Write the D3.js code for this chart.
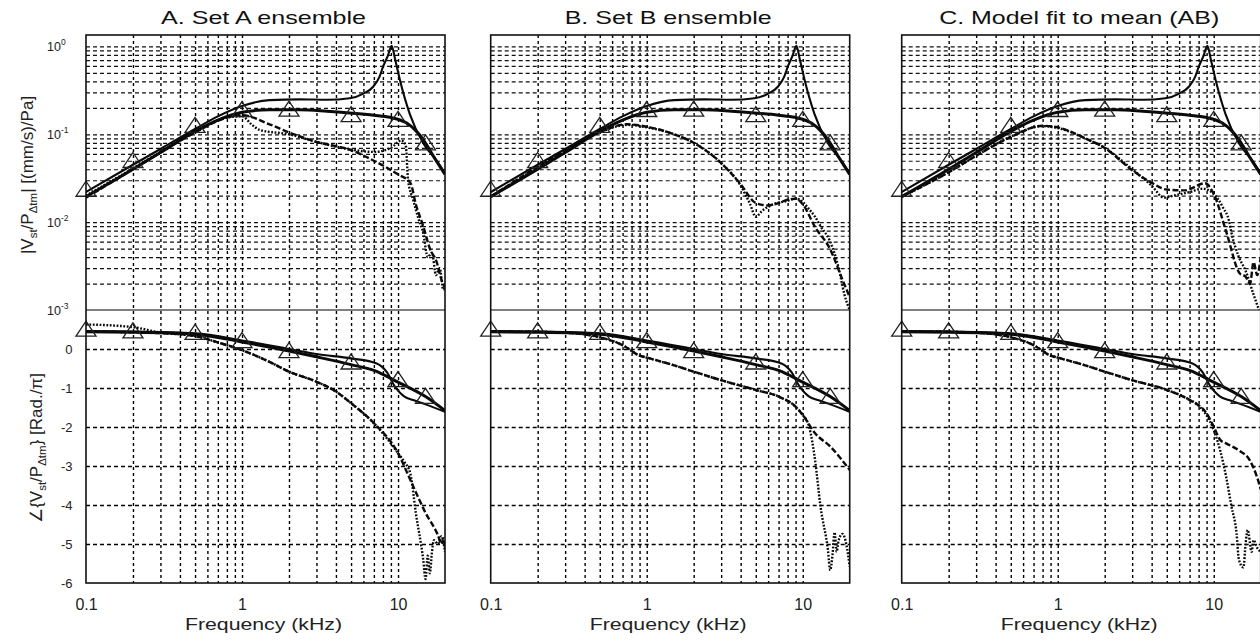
<!DOCTYPE html>
<html>
<head>
<meta charset="utf-8">
<script src="https://cdn.jsdelivr.net/npm/d3@7"></script>
<style>
  html, body { margin: 0; padding: 0; background: #fff; }
  svg { display: block; font-family: "Liberation Sans", Arial, Helvetica, sans-serif; }
</style>
</head>
<body>
<script>
// ---------------- DATA ----------------
const PANEL_TITLES = ["A. Set A ensemble", "B. Set B ensemble", "C. Model fit to mean (AB)"];
const X_TICK_LABELS = [0.1, 1, 10];
const MAG_EXPONENTS = [0, -1, -2, -3];
const PHASE_TICKS = [0, -1, -2, -3, -4, -5, -6];
const X_LABEL = "Frequency (kHz)";

// triangle markers (same in all panels)
const triFreq  = [0.1, 0.2, 0.5, 1, 2, 5, 10, 15];
const triMag   = [0.024, 0.051, 0.128, 0.194, 0.196, 0.17, 0.15, 0.081];
const triPhase = [0.52, 0.48, 0.44, 0.23, -0.03, -0.32, -0.77, -1.2];

// model with resonance peak (thin solid)
const peakMagFreq = [0.1, 0.2, 0.3, 0.5, 0.7, 1, 1.5, 2.35, 3.5, 4.9, 6, 6.95, 7.6, 8.05, 8.6, 9.1, 9.6, 10.3, 11.9, 14.5, 17.7, 20];
const peakMagVal  = [0.022, 0.045, 0.068, 0.115, 0.16, 0.21, 0.245, 0.25, 0.247, 0.257, 0.29, 0.35, 0.45, 0.6, 0.78, 1.02, 0.7, 0.41, 0.17, 0.079, 0.05, 0.036];
const peakPhFreq  = [0.1, 0.2, 0.5, 1, 2, 3, 5, 7.3, 8.5, 9.5, 10.3, 11, 12.5, 15, 20];
const peakPhVal   = [0.46, 0.45, 0.4, 0.22, 0.0, -0.13, -0.24, -0.37, -0.6, -0.95, -1.12, -1.22, -1.31, -1.42, -1.61];

// smooth fit (thick solid)
const fitMagFreq = [0.1, 0.2, 0.3, 0.5, 0.7, 1, 1.5, 2.35, 3.5, 4.9, 7, 8.9, 11.3, 13, 14.5, 17, 20];
const fitMagVal  = [0.0195, 0.04, 0.062, 0.108, 0.145, 0.178, 0.19, 0.19, 0.183, 0.175, 0.165, 0.156, 0.135, 0.11, 0.087, 0.055, 0.035];
const fitPhFreq  = [0.1, 0.2, 0.5, 1, 2, 3, 5, 7, 10, 15, 20];
const fitPhVal   = [0.44, 0.43, 0.38, 0.18, -0.05, -0.2, -0.4, -0.55, -0.85, -1.22, -1.58];

// Panel A ensemble
const aMagDashF = [0.1, 0.2, 0.3, 0.5, 0.8, 1, 1.5, 2, 3, 5, 7, 10, 12, 13, 14.5, 16, 17.7, 19, 20];
const aMagDashV = [0.019, 0.04, 0.062, 0.105, 0.155, 0.165, 0.13, 0.105, 0.082, 0.066, 0.05, 0.035, 0.028, 0.016, 0.009, 0.005, 0.0035, 0.0022, 0.0018];
const aMagDotF  = [0.1, 0.2, 0.3, 0.5, 0.8, 1, 1.15, 1.3, 2, 3, 5, 7, 9, 10.5, 11.2, 11.6, 12.5, 13.5, 14.5, 15.5, 16.5, 17.5, 18.5, 19.5, 20];
const aMagDotV  = [0.02, 0.041, 0.063, 0.107, 0.155, 0.16, 0.13, 0.112, 0.1, 0.082, 0.067, 0.063, 0.07, 0.085, 0.075, 0.03, 0.018, 0.011, 0.0075, 0.004, 0.0045, 0.0025, 0.003, 0.0017, 0.0019];
const aPhDashF  = [0.1, 0.2, 0.3, 0.5, 0.7, 1, 1.5, 2, 3, 4, 5, 7, 10, 12, 15, 18, 19, 19.5, 20];
const aPhDashV  = [0.45, 0.43, 0.41, 0.33, 0.17, -0.03, -0.33, -0.58, -0.84, -1.09, -1.39, -1.9, -2.67, -3.36, -4.2, -4.77, -5.0, -4.85, -5.1];
const aPhDotF   = [0.1, 0.2, 0.3, 0.5, 0.7, 1, 1.5, 2, 3, 4, 5, 7, 10, 11, 12, 13, 14.5, 15, 15.5, 16, 16.5, 17, 18, 19, 20];
const aPhDotV   = [0.63, 0.56, 0.42, 0.33, 0.17, -0.03, -0.33, -0.58, -0.84, -1.09, -1.39, -1.9, -2.67, -2.9, -3.2, -4.2, -5.4, -5.9, -5.3, -5.75, -5.2, -4.9, -5.0, -4.8, -5.2];

// Panel B ensemble
const bMagDashF = [0.1, 0.2, 0.3, 0.5, 0.75, 1, 1.5, 2, 3, 4, 5, 6, 7, 8, 9, 10, 12, 15, 18, 20];
const bMagDashV = [0.0195, 0.0425, 0.065, 0.106, 0.13, 0.122, 0.1, 0.08, 0.047, 0.027, 0.0165, 0.0155, 0.0165, 0.018, 0.0185, 0.016, 0.0088, 0.0049, 0.0022, 0.0014];
const bMagDotF  = [0.1, 0.2, 0.3, 0.5, 0.75, 1, 1.5, 2, 3, 4, 4.6, 5, 5.5, 6.5, 8, 9, 10, 11, 12, 13, 15, 17, 18.5, 20];
const bMagDotV  = [0.0195, 0.042, 0.064, 0.105, 0.128, 0.12, 0.1, 0.08, 0.047, 0.026, 0.016, 0.0115, 0.0135, 0.016, 0.0175, 0.0185, 0.017, 0.014, 0.0115, 0.009, 0.006, 0.003, 0.0015, 0.001];
const bPhDashF  = [0.1, 0.2, 0.3, 0.5, 0.7, 0.9, 1, 1.5, 2, 3, 5, 7, 9, 10, 12, 15, 20];
const bPhDashV  = [0.45, 0.44, 0.42, 0.3, 0.1, -0.17, -0.22, -0.42, -0.58, -0.8, -1.05, -1.22, -1.48, -1.69, -2.16, -2.5, -3.1];
const bPhDotF   = [0.1, 0.2, 0.3, 0.5, 0.7, 0.9, 1, 1.5, 2, 3, 5, 7, 9, 10, 11, 12, 13, 14.5, 15, 15.5, 16, 16.5, 17, 18, 19, 20];
const bPhDotV   = [0.45, 0.44, 0.42, 0.3, 0.1, -0.17, -0.22, -0.42, -0.58, -0.8, -1.05, -1.22, -1.48, -1.69, -2.0, -2.85, -4.04, -5.15, -5.67, -5.3, -4.7, -5.2, -4.9, -4.74, -5.0, -5.58];

// Panel C ensemble
const cMagDashF = [0.1, 0.2, 0.3, 0.5, 0.8, 1, 1.5, 2, 3, 4, 5, 6.5, 8.8, 9.95, 12.1, 14.7, 16, 17.1, 18, 19, 20];
const cMagDashV = [0.0195, 0.037, 0.057, 0.093, 0.125, 0.12, 0.09, 0.07, 0.039, 0.028, 0.0235, 0.023, 0.0277, 0.0214, 0.0075, 0.0026, 0.0024, 0.002, 0.0035, 0.0025, 0.004];
const cMagDotF  = [0.1, 0.2, 0.3, 0.5, 0.8, 1, 1.5, 2, 3, 4, 4.8, 5.5, 7, 8.5, 10, 11.5, 12.5, 13, 14.5, 16, 18, 19.5];
const cMagDotV  = [0.0195, 0.037, 0.057, 0.094, 0.124, 0.118, 0.09, 0.07, 0.04, 0.026, 0.019, 0.02, 0.022, 0.024, 0.021, 0.0145, 0.0105, 0.0075, 0.004, 0.0028, 0.0015, 0.001];
const cPhDashF  = [0.1, 0.2, 0.3, 0.5, 0.7, 0.9, 1, 1.5, 2, 3, 5, 7, 9, 10, 11, 12, 14.5, 17, 19, 20];
const cPhDashV  = [0.45, 0.44, 0.42, 0.3, 0.1, -0.17, -0.22, -0.42, -0.58, -0.8, -1.05, -1.31, -1.65, -1.99, -2.33, -2.42, -2.6, -2.85, -3.3, -3.6];
const cPhDotF   = [0.1, 0.2, 0.3, 0.5, 0.7, 0.9, 1, 1.5, 2, 3, 5, 7, 8, 10, 11, 12, 13, 14, 14.5, 15.5, 16, 16.5, 17.5, 18, 19, 20];
const cPhDotV   = [0.45, 0.44, 0.42, 0.3, 0.1, -0.17, -0.22, -0.42, -0.58, -0.8, -1.05, -1.3, -1.45, -2.08, -2.6, -3.27, -4.04, -4.72, -5.4, -5.6, -5.0, -4.64, -5.2, -4.9, -5.1, -5.2];

// ---------------- LAYOUT ----------------
const W = 1260, H = 640;
const PW = 359;
const panelLeft = [86, 490.7, 901.7];
const titleWidth = [205, 207, 280];
const magTop = 35, magBot = 310, phBot = 583;

const zip = (f, v) => f.map((d, i) => [d, v[i]]);

const panels = [
  { magDash: zip(aMagDashF, aMagDashV), magDot: zip(aMagDotF, aMagDotV), phDash: zip(aPhDashF, aPhDashV), phDot: zip(aPhDotF, aPhDotV) },
  { magDash: zip(bMagDashF, bMagDashV), magDot: zip(bMagDotF, bMagDotV), phDash: zip(bPhDashF, bPhDashV), phDot: zip(bPhDotF, bPhDotV) },
  { magDash: zip(cMagDashF, cMagDashV), magDot: zip(cMagDotF, cMagDotV), phDash: zip(cPhDashF, cPhDashV), phDot: zip(cPhDotF, cPhDotV) }
];
const peakMag = zip(peakMagFreq, peakMagVal), peakPh = zip(peakPhFreq, peakPhVal);
const fitMag = zip(fitMagFreq, fitMagVal), fitPh = zip(fitPhFreq, fitPhVal);
const tris = triFreq.map((f, i) => ({ f, m: triMag[i], p: triPhase[i] }));

const svg = d3.select("body").append("svg").attr("width", W).attr("height", H);
svg.append("rect").attr("width", W).attr("height", H).attr("fill", "#fff");
const defs = svg.append("defs");

const INK = "#0a0a0a";

panels.forEach((P, i) => {
  const L = panelLeft[i];
  const x = d3.scaleLog().domain([0.1, 20]).range([L, L + PW]);
  const yM = d3.scaleLog().domain([1e-3, 1.35]).range([magBot, magTop]);
  const yP = d3.scaleLinear().domain([-6, 1]).range([phBot, magBot]);
  const g = svg.append("g");

  defs.append("clipPath").attr("id", "cm" + i).append("rect")
    .attr("x", L).attr("y", magTop).attr("width", PW).attr("height", magBot - magTop);
  defs.append("clipPath").attr("id", "cp" + i).append("rect")
    .attr("x", L).attr("y", magBot).attr("width", PW).attr("height", phBot - magBot);

  // vertical grid
  const vg = g.append("g").attr("transform", `translate(0,${magTop})`)
    .call(d3.axisBottom(x).tickValues(x.ticks().filter(t => t > 0.1001 && t < 19.9)).tickSize(phBot - magTop).tickFormat(""));
  vg.select(".domain").remove();
  vg.selectAll("line").attr("stroke", "#000").attr("stroke-width", 1.4).attr("stroke-dasharray", "3,3");

  // horizontal grid magnitude
  const hm = g.append("g").attr("transform", `translate(${L},0)`)
    .call(d3.axisLeft(yM).tickValues(yM.ticks().filter(t => t > 0.00101)).tickSize(-PW).tickFormat(""));
  hm.select(".domain").remove();
  hm.selectAll("line").attr("stroke", "#111").attr("stroke-width", 1.2).attr("stroke-dasharray", "4,3");

  // horizontal grid phase
  const hp = g.append("g").attr("transform", `translate(${L},0)`)
    .call(d3.axisLeft(yP).tickValues(PHASE_TICKS.filter(t => t > -6)).tickSize(-PW).tickFormat(""));
  hp.select(".domain").remove();
  hp.selectAll("line").attr("stroke", "#000").attr("stroke-width", 1.4).attr("stroke-dasharray", "4,3");

  // lines
  const lineM = d3.line().x(d => x(d[0])).y(d => yM(d[1])).curve(d3.curveMonotoneX);
  const lineP = d3.line().x(d => x(d[0])).y(d => yP(d[1])).curve(d3.curveMonotoneX);

  const gm = g.append("g").attr("clip-path", `url(#cm${i})`).attr("fill", "none");
  const gp = g.append("g").attr("clip-path", `url(#cp${i})`).attr("fill", "none");

  gm.append("path").attr("d", lineM(P.magDot)).attr("stroke", INK).attr("stroke-width", 2.4).attr("stroke-dasharray", "1.8,1.6");
  gm.append("path").attr("d", lineM(P.magDash)).attr("stroke", INK).attr("stroke-width", 2.4).attr("stroke-dasharray", "6,2.5");
  gm.append("path").attr("d", lineM(peakMag)).attr("stroke", INK).attr("stroke-width", 2.1);
  gm.append("path").attr("d", lineM(fitMag)).attr("stroke", INK).attr("stroke-width", 3);

  gp.append("path").attr("d", lineP(P.phDot)).attr("stroke", INK).attr("stroke-width", 2.4).attr("stroke-dasharray", "1.8,1.6");
  gp.append("path").attr("d", lineP(P.phDash)).attr("stroke", INK).attr("stroke-width", 2.4).attr("stroke-dasharray", "6,2.5");
  gp.append("path").attr("d", lineP(peakPh)).attr("stroke", INK).attr("stroke-width", 2.1);
  gp.append("path").attr("d", lineP(fitPh)).attr("stroke", INK).attr("stroke-width", 3);

  // triangles
  const tri = (cx, cy) => `M${cx},${cy - 7.5}L${cx + 10},${cy + 7.5}L${cx - 10},${cy + 7.5}Z`;
  g.append("g").selectAll("path").data(tris).join("path")
    .attr("d", d => tri(x(d.f), yM(d.m))).attr("fill", "none").attr("stroke", "#222").attr("stroke-width", 1.3);
  g.append("g").selectAll("path").data(tris).join("path")
    .attr("d", d => tri(x(d.f), yP(d.p))).attr("fill", "none").attr("stroke", "#222").attr("stroke-width", 1.3);

  // frame
  g.append("line").attr("x1", L).attr("x2", L + PW).attr("y1", magBot).attr("y2", magBot)
    .attr("stroke", "#555").attr("stroke-width", 1.3);
  g.append("rect").attr("x", L).attr("y", magTop).attr("width", PW).attr("height", phBot - magTop)
    .attr("fill", "none").attr("stroke", "#111").attr("stroke-width", 1.6);

  // x tick labels
  const xa = g.append("g").attr("transform", `translate(0,${phBot})`)
    .call(d3.axisBottom(x).tickValues(X_TICK_LABELS).tickSize(0).tickPadding(15.5).tickFormat(d => String(d)));
  xa.select(".domain").remove();
  xa.selectAll("text").attr("font-size", 16).attr("fill", "#222").attr("font-family", "Liberation Sans, Arial, sans-serif");

  // x label
  g.append("text").attr("x", L + PW / 2 - 2).attr("y", 630).attr("text-anchor", "middle")
    .attr("font-size", 16).attr("fill", "#222").attr("textLength", 157).attr("lengthAdjust", "spacingAndGlyphs")
    .text(X_LABEL);

  // title
  g.append("text").attr("x", L + PW / 2 - 2).attr("y", 24).attr("text-anchor", "middle")
    .attr("font-size", 19).attr("fill", "#111").attr("textLength", titleWidth[i]).attr("lengthAdjust", "spacingAndGlyphs")
    .text(PANEL_TITLES[i]);

  if (i === 0) {
    const ml = g.append("g").selectAll("text").data(MAG_EXPONENTS).join("text")
      .attr("x", 47).attr("y", e => yM(Math.pow(10, e)) + 4.5)
      .attr("font-size", 12.5).attr("fill", "#222");
    ml.append("tspan").text("10");
    ml.append("tspan").attr("dy", -6).attr("font-size", 8.5).text(e => String(e));

    const pa = g.append("g").attr("transform", `translate(${L},0)`)
      .call(d3.axisLeft(yP).tickValues(PHASE_TICKS).tickSize(0).tickPadding(13.5).tickFormat(d => String(d)));
    pa.select(".domain").remove();
    pa.selectAll("text").attr("font-size", 13).attr("fill", "#222").attr("font-family", "Liberation Sans, Arial, sans-serif");

    const magLab = g.append("text").attr("transform", "translate(33,175) rotate(-90)")
      .attr("text-anchor", "middle").attr("font-size", 17).attr("fill", "#222");
    magLab.append("tspan").text("|V");
    magLab.append("tspan").attr("font-size", 11.5).attr("dy", 4).text("st");
    magLab.append("tspan").attr("dy", -4).text("/P");
    magLab.append("tspan").attr("font-size", 11.5).attr("dy", 4).text("\u0394tm");
    magLab.append("tspan").attr("dy", -4).text("| [(mm/s)/Pa]");

    const phLab = g.append("text").attr("transform", "translate(42,448) rotate(-90)")
      .attr("text-anchor", "middle").attr("font-size", 17).attr("fill", "#222");
    phLab.append("tspan").text("\u2220{V");
    phLab.append("tspan").attr("font-size", 11.5).attr("dy", 4).text("st");
    phLab.append("tspan").attr("dy", -4).text("/P");
    phLab.append("tspan").attr("font-size", 11.5).attr("dy", 4).text("\u0394tm");
    phLab.append("tspan").attr("dy", -4).text("} [Rad./\u03c0]");
  }
});
</script>
</body>
</html>
